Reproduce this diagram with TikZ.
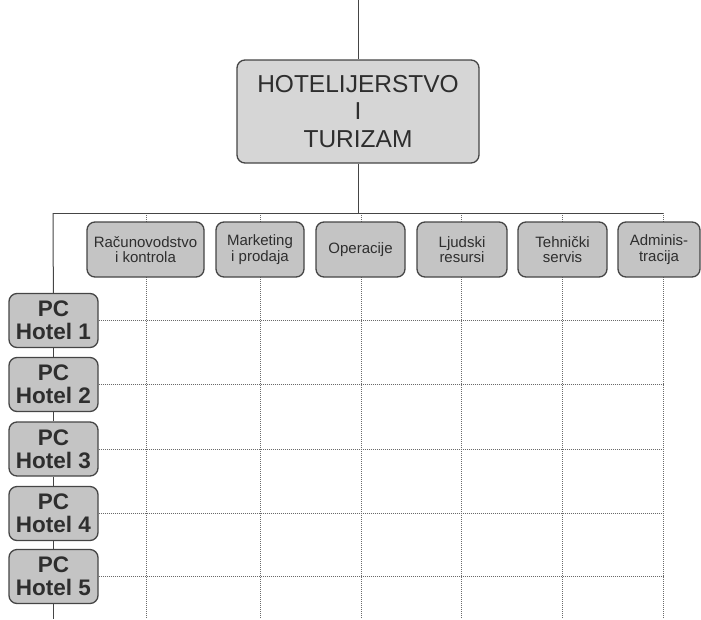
\documentclass[tikz,border=0pt]{standalone}
\usepackage{fontspec}
\setmainfont{Liberation Sans}
\definecolor{boxline}{HTML}{454545}
\definecolor{boxfill}{HTML}{C4C4C4}
\definecolor{topfill}{HTML}{D6D6D6}
\definecolor{txt}{HTML}{2E2E2E}
\definecolor{dots}{HTML}{6A6A6A}
\tikzset{
  orgbox/.style={draw=boxline, line width=1.3pt, rounded corners=8pt, fill=boxfill,
    text=txt, align=center, inner sep=0pt},
  deptbox/.style={orgbox, minimum height=55pt, font=\fontsize{15}{15.7}\selectfont},
  hotelbox/.style={orgbox, minimum width=89pt, minimum height=54pt,
    font=\fontsize{22.5}{23}\selectfont\bfseries},
  link/.style={draw=boxline, line width=1pt},
  gridline/.style={draw=dots, line width=1pt, densely dotted}
}
\begin{document}
\begin{tikzpicture}[x=1pt,y=-1pt]
  \useasboundingbox (0,0) rectangle (701,619);
  % grid behind the boxes
  \coordinate (c1) at (146,213); \coordinate (b1) at (146,619);
  \coordinate (c2) at (260,213); \coordinate (b2) at (260,619);
  \coordinate (c3) at (361,213); \coordinate (b3) at (361,619);
  \coordinate (c4) at (461,213); \coordinate (b4) at (461,619);
  \coordinate (c5) at (562,213); \coordinate (b5) at (562,619);
  \coordinate (c6) at (663,213); \coordinate (b6) at (663,619);
  \draw[gridline] (c1) -- (b1);
  \draw[gridline] (c2) -- (b2);
  \draw[gridline] (c3) -- (b3);
  \draw[gridline] (c4) -- (b4);
  \draw[gridline] (c5) -- (b5);
  \draw[gridline] (c6) -- (b6);
  % top of the tree
  \coordinate (start) at (358,0);
  \coordinate (bar) at (358,213);
  \coordinate (barleft) at (53,213);
  \node[orgbox, fill=topfill, minimum width=242pt, minimum height=103pt,
        font=\fontsize{24.5}{27.5}\selectfont] (top) at (358,111.5) {HOTELIJERSTVO\\I\\TURIZAM};
  \draw[link] (start) -- (top);
  \draw[link] (top) -- (bar);
  \draw[link] (barleft) -- (c6);
  % departments
  \node[deptbox, minimum width=117pt] (d1) at (145.5,249.5) {Računovodstvo\\i kontrola};
  \node[deptbox, minimum width=88pt] (d2) at (260,249.5) {Marketing\\i prodaja};
  \node[deptbox, minimum width=89pt] (d3) at (360.5,249.5) {Operacije};
  \node[deptbox, minimum width=90pt] (d4) at (462,249.5) {Ljudski\\resursi};
  \node[deptbox, minimum width=89pt] (d5) at (562.5,249.5) {Tehnički\\servis};
  \node[deptbox, minimum width=82pt] (d6) at (659,249.5) {Adminis-\\tracija};
  % profit centres
  \node[hotelbox] (h1) at (53.5,320.5) {PC\\Hotel 1};
  \node[hotelbox] (h2) at (53.5,384.5) {PC\\Hotel 2};
  \node[hotelbox] (h3) at (53.5,449) {PC\\Hotel 3};
  \node[hotelbox] (h4) at (53.5,513.5) {PC\\Hotel 4};
  \node[hotelbox] (h5) at (53.5,576.5) {PC\\Hotel 5};
  \coordinate (end) at (53.5,619);
  \draw[link] (barleft) -- (h1);
  \draw[link] (h1) -- (h2);
  \draw[link] (h2) -- (h3);
  \draw[link] (h3) -- (h4);
  \draw[link] (h4) -- (h5);
  \draw[link] (h5) -- (end);
  % rows
  \coordinate (r1) at (663,320.5);
  \coordinate (r2) at (663,384.5);
  \coordinate (r3) at (663,449);
  \coordinate (r4) at (663,513.5);
  \coordinate (r5) at (663,576.5);
  \draw[gridline] (h1) -- (r1);
  \draw[gridline] (h2) -- (r2);
  \draw[gridline] (h3) -- (r3);
  \draw[gridline] (h4) -- (r4);
  \draw[gridline] (h5) -- (r5);
\end{tikzpicture}
\end{document}
